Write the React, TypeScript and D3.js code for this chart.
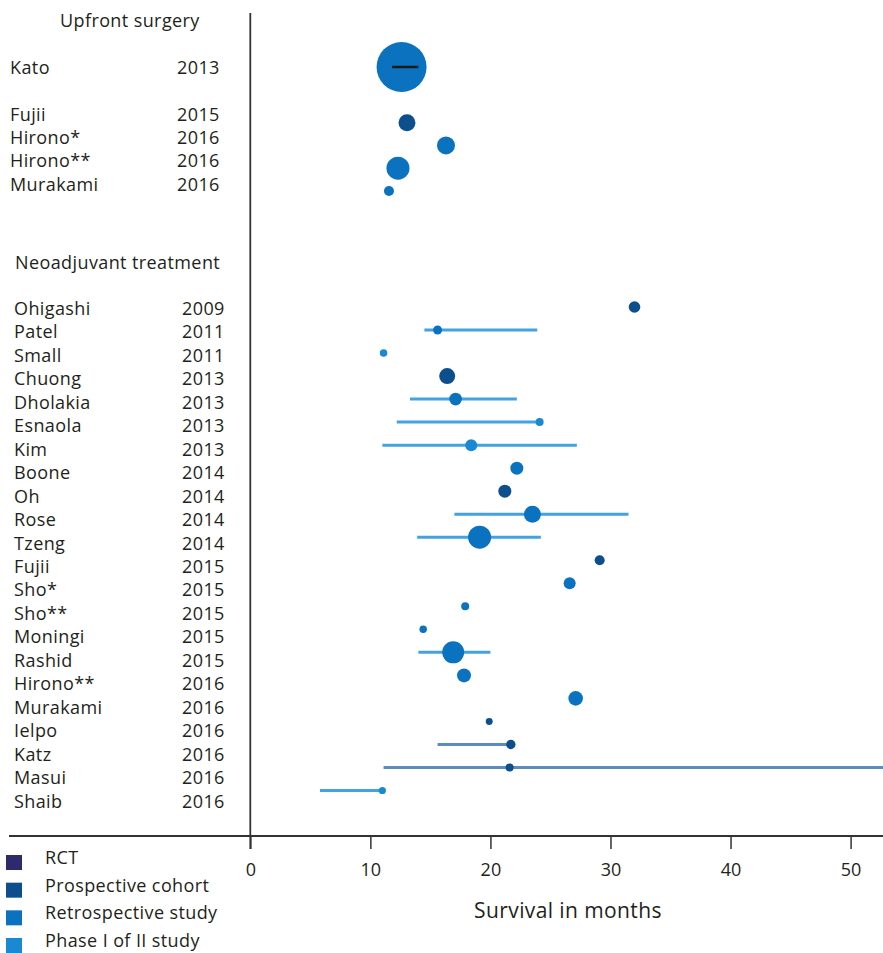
import React, { useEffect, useRef } from 'react';
import * as d3 from 'd3';

// study designs (legend order)
const designs = ['RCT', 'Prospective cohort', 'Retrospective study', 'Phase I of II study'];
const designColors = ['#2d2b6b', '#0c4f8c', '#0b72c0', '#1a88d3'];

// upfront surgery
const upfrontStudy = ['Kato', 'Fujii', 'Hirono*', 'Hirono**', 'Murakami'];
const upfrontYear = [2013, 2015, 2016, 2016, 2016];
const upfrontRow = [0, 2, 3, 4, 5];
const upfrontMedian = [12.6, 13.05, 16.3, 12.3, 11.55];
const upfrontLow = [11.8, null, null, null, null];
const upfrontHigh = [14.0, null, null, null, null];
const upfrontWeight = [625, 72, 81, 132, 25];
const upfrontDesign = ['Retrospective study', 'Prospective cohort', 'Retrospective study', 'Retrospective study', 'Retrospective study'];

// neoadjuvant treatment
const neoStudy = ['Ohigashi', 'Patel', 'Small', 'Chuong', 'Dholakia', 'Esnaola', 'Kim', 'Boone', 'Oh', 'Rose', 'Tzeng',
  'Fujii', 'Sho*', 'Sho**', 'Moningi', 'Rashid', 'Hirono**', 'Murakami', 'Ielpo', 'Katz', 'Masui', 'Shaib'];
const neoYear = [2009, 2011, 2011, 2013, 2013, 2013, 2013, 2014, 2014, 2014, 2014,
  2015, 2015, 2015, 2015, 2015, 2016, 2016, 2016, 2016, 2016, 2016];
const neoMedian = [32.0, 15.6, 11.1, 16.4, 17.1, 24.1, 18.4, 22.2, 21.2, 23.5, 19.1,
  29.1, 26.6, 17.9, 14.4, 16.9, 17.8, 27.1, 19.9, 21.7, 21.6, 11.0];
const neoLow = [null, 14.5, null, null, 13.3, 12.2, 11.0, null, null, 17.0, 13.9,
  null, null, null, null, 14.0, null, null, null, 15.6, 11.1, 5.8];
const neoHigh = [null, 23.9, null, null, 22.2, 24.1, 27.2, null, null, 31.5, 24.2,
  null, null, null, null, 20.0, null, null, null, 21.7, 60, 11.0];
const neoWeight = [34, 20, 14, 64, 40, 16, 36, 42, 42, 72, 132,
  25, 36, 16, 14, 121, 49, 53, 12, 22, 16, 13];
const neoDesign = ['Prospective cohort', 'Retrospective study', 'Phase I of II study', 'Prospective cohort',
  'Retrospective study', 'Phase I of II study', 'Phase I of II study', 'Retrospective study', 'Prospective cohort',
  'Retrospective study', 'Retrospective study', 'Prospective cohort', 'Retrospective study', 'Retrospective study',
  'Retrospective study', 'Retrospective study', 'Retrospective study', 'Retrospective study', 'Prospective cohort',
  'Prospective cohort', 'Prospective cohort', 'Phase I of II study'];

const xTicks = [0, 10, 20, 30, 40, 50];

const W = 883;
const H = 953;
const FONT = '"Open Sans", sans-serif';
const INK = '#231f20';

interface Row {
  study: string,
  year: number,
  median: number,
  low: number | null,
  high: number | null,
  weight: number,
  design: string,
  labelY: number,
  markY: number
}

export default function App() {
  const ref = useRef<SVGSVGElement>(null);

  useEffect(() => {
    draw();
  }, []);

  function draw() {
    const svg = d3.select(ref.current);
    svg.selectAll('*').remove();

    const x = d3.scaleLinear().domain([0, 50]).range([250.3, 850.6]);
    const r = d3.scaleSqrt().domain([0, 625]).range([0, 25]);
    const color = d3.scaleOrdinal<string, string>().domain(designs).range(designColors);
    const lineColor = (d: string) => (d === 'Prospective cohort' ? '#5a8dbd' : '#42a2e2');

    const upLabelY = d3.scaleLinear().domain([0, 5]).range([67, 183.5]);
    const upMarkY = d3.scaleLinear().domain([0, 2, 5]).range([67, 122.7, 191]);
    const neoLabelY = d3.scaleLinear().domain([0, 21]).range([308, 800.5]);
    const neoMarkY = d3.scaleLinear().domain([0, 21]).range([307, 790.5]);

    const upRows: Row[] = upfrontStudy.map((s, i) => ({
      study: s, year: upfrontYear[i], median: upfrontMedian[i], low: upfrontLow[i], high: upfrontHigh[i],
      weight: upfrontWeight[i], design: upfrontDesign[i],
      labelY: upLabelY(upfrontRow[i]), markY: upMarkY(upfrontRow[i]),
    }));
    const neoRows: Row[] = neoStudy.map((s, i) => ({
      study: s, year: neoYear[i], median: neoMedian[i], low: neoLow[i], high: neoHigh[i],
      weight: neoWeight[i], design: neoDesign[i],
      labelY: neoLabelY(i), markY: neoMarkY(i),
    }));

    const text = (g: any) => g
      .attr('font-family', FONT)
      .attr('font-size', 18)
      .attr('letter-spacing', 0.4)
      .attr('fill', INK)
      .attr('dominant-baseline', 'central');

    // headers
    svg.append('text').call(text).attr('x', 60).attr('y', 20).text('Upfront surgery');
    svg.append('text').call(text).attr('x', 15).attr('y', 262).text('Neoadjuvant treatment');

    // row labels
    const labels = svg.append('g');
    labels.selectAll('.up-name').data(upRows).enter().append('text')
      .call(text).attr('x', 10).attr('y', (d) => d.labelY).text((d) => d.study);
    labels.selectAll('.up-year').data(upRows).enter().append('text')
      .call(text).attr('x', 177).attr('y', (d) => d.labelY).text((d) => d.year);
    labels.selectAll('.neo-name').data(neoRows).enter().append('text')
      .call(text).attr('x', 14).attr('y', (d) => d.labelY).text((d) => d.study);
    labels.selectAll('.neo-year').data(neoRows).enter().append('text')
      .call(text).attr('x', 182).attr('y', (d) => d.labelY).text((d) => d.year);

    // axes lines
    svg.append('line').attr('x1', x(0)).attr('x2', x(0)).attr('y1', 13).attr('y2', 849)
      .attr('stroke', '#333').attr('stroke-width', 1.8);
    svg.append('line').attr('x1', 9).attr('x2', W).attr('y1', 836).attr('y2', 836)
      .attr('stroke', '#333').attr('stroke-width', 1.8);

    const axis = svg.append('g')
      .attr('transform', 'translate(0,836)')
      .call(d3.axisBottom(x).tickValues(xTicks).tickSize(13).tickPadding(14.5).tickFormat(d3.format('d')));
    axis.select('.domain').remove();
    axis.selectAll('line').attr('stroke', '#333').attr('stroke-width', 1.5);
    axis.selectAll('text').attr('font-family', FONT).attr('font-size', 18).attr('fill', INK);

    svg.append('text')
      .attr('x', 568).attr('y', 910)
      .attr('text-anchor', 'middle').attr('dominant-baseline', 'central')
      .attr('font-family', FONT).attr('font-size', 21).attr('letter-spacing', 0.4).attr('fill', INK)
      .text('Survival in months');

    // forest marks
    const all = [...upRows, ...neoRows];
    const marks = svg.append('g');
    marks.selectAll('line.ci').data(neoRows.filter((d) => d.low !== null)).enter().append('line')
      .attr('class', 'ci')
      .attr('x1', (d) => x(d.low as number)).attr('x2', (d) => x(d.high as number))
      .attr('y1', (d) => d.markY).attr('y2', (d) => d.markY)
      .attr('stroke', (d) => lineColor(d.design)).attr('stroke-width', 3);

    marks.selectAll('circle').data(all).enter().append('circle')
      .attr('cx', (d) => x(d.median)).attr('cy', (d) => d.markY)
      .attr('r', (d) => r(d.weight))
      .attr('fill', (d) => color(d.design));

    // upfront CI drawn over the big marker
    marks.selectAll('line.up-ci').data(upRows.filter((d) => d.low !== null)).enter().append('line')
      .attr('class', 'up-ci')
      .attr('x1', (d) => x(d.low as number)).attr('x2', (d) => x(d.high as number))
      .attr('y1', (d) => d.markY).attr('y2', (d) => d.markY)
      .attr('stroke', '#1b1b1b').attr('stroke-width', 2.5);

    // legend
    const legend = svg.append('g');
    const legY = d3.scaleLinear().domain([0, 3]).range([857, 940]);
    legend.selectAll('rect').data(designs).enter().append('rect')
      .attr('x', 6).attr('y', (d, i) => legY(i) - 2).attr('width', 16).attr('height', 15)
      .attr('fill', (d) => color(d));
    legend.selectAll('text').data(designs).enter().append('text')
      .call(text).attr('x', 45).attr('y', (d, i) => legY(i)).text((d) => d);
  }

  return (
    <svg
      ref={ref}
      width={W}
      height={H}
      style={{ position: 'absolute', left: 0, top: 0, background: '#fff' }}
    />
  );
}
